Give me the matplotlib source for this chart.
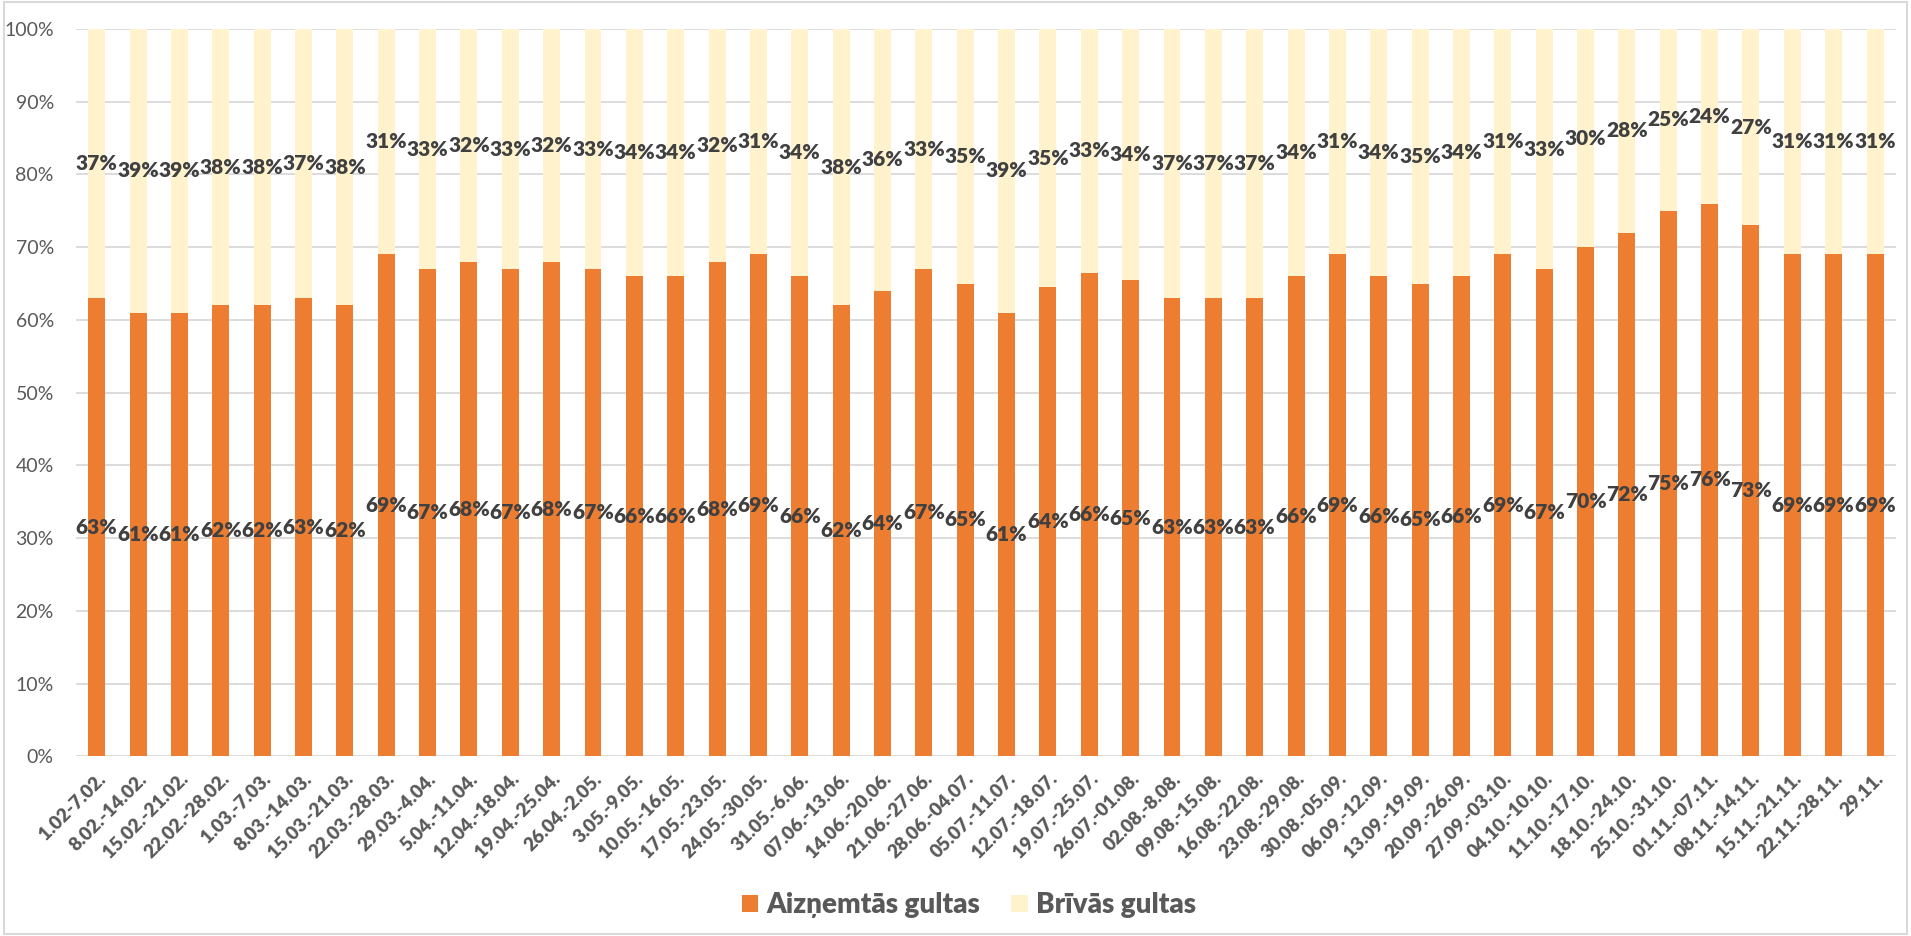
import matplotlib.pyplot as plt
import numpy as np
from matplotlib.patches import Rectangle

# nedēļas un gultu noslodze (%)
nedelas = ['1.02-7.02.', '8.02.-14.02.', '15.02.-21.02.', '22.02.-28.02.', '1.03.-7.03.',
           '8.03.-14.03.', '15.03.-21.03.', '22.03.-28.03.', '29.03.-4.04.', '5.04.-11.04.',
           '12.04.-18.04.', '19.04.-25.04.', '26.04.-2.05.', '3.05.-9.05.', '10.05.-16.05.',
           '17.05.-23.05.', '24.05.-30.05.', '31.05.-6.06.', '07.06.-13.06.', '14.06.-20.06.',
           '21.06.-27.06.', '28.06.-04.07.', '05.07.-11.07.', '12.07.-18.07.', '19.07.-25.07.',
           '26.07.-01.08.', '02.08.-8.08.', '09.08.-15.08.', '16.08.-22.08.', '23.08.-29.08.',
           '30.08.-05.09.', '06.09.-12.09.', '13.09.-19.09.', '20.09.-26.09.', '27.09.-03.10.',
           '04.10.-10.10.', '11.10.-17.10.', '18.10.-24.10.', '25.10.-31.10.', '01.11.-07.11.',
           '08.11.-14.11.', '15.11.-21.11.', '22.11.-28.11.', '29.11.']

aiznemtas = [63, 61, 61, 62, 62, 63, 62, 69, 67, 68, 67, 68, 67, 66, 66, 68, 69, 66, 62, 64,
             67, 65, 61, 64.49, 66.49, 65.49, 63, 63, 63, 66, 69, 66, 65, 66, 69, 67, 70, 72,
             75, 76, 73, 69, 69, 69]
brivas = [37, 39, 39, 38, 38, 37, 38, 31, 33, 32, 33, 32, 33, 34, 34, 32, 31, 34, 38, 36,
          33, 35, 39, 35.49, 33.49, 34.49, 37, 37, 37, 34, 31, 34, 35, 34, 31, 33, 30, 28,
          25, 24, 27, 31, 31, 31]

plt.rcParams['font.family'] = ['Lato', 'DejaVu Sans']

oranzs = '#ED7D31'
dzeltens = '#FFF2CC'
teksts = '#404040'

fig = plt.figure(figsize=(19.11, 9.36), dpi=100)
ax = fig.add_axes([0.0398, 0.192, 0.9522, 0.777])

x = np.arange(len(nedelas))
b1 = ax.bar(x, aiznemtas, width=0.41, color=oranzs, label='Aizņemtās gultas', zorder=3)
b2 = ax.bar(x, brivas, width=0.41, bottom=aiznemtas, color=dzeltens,
            label='Brīvās gultas', zorder=3)

ax.bar_label(b1, labels=[f'{v:.0f}%' for v in aiznemtas], label_type='center',
             fontsize=15, fontweight='heavy', color=teksts, zorder=5)
ax.bar_label(b2, labels=[f'{v:.0f}%' for v in brivas], label_type='center',
             fontsize=15, fontweight='heavy', color=teksts, zorder=5)

ax.set_xlim(-0.5, len(nedelas) - 0.5)
ax.set_ylim(0, 100)
ax.set_yticks(np.arange(0, 101, 10))
ax.set_yticklabels([f'{v}%' for v in range(0, 101, 10)], fontsize=14, color='#595959')
ax.set_xticks(x)
ax.set_xticklabels(nedelas, rotation=45, ha='right', rotation_mode='anchor',
                   fontsize=13.5, fontweight='heavy', color='#595959')
ax.tick_params(axis='both', length=0)
ax.tick_params(axis='y', pad=16)
ax.tick_params(axis='x', pad=10)
ax.grid(axis='y', color='#D9D9D9', linewidth=1.3, zorder=0)
for s in ax.spines.values():
    s.set_visible(False)

leg = fig.legend(loc='center', bbox_to_anchor=(0.507, 0.033), ncol=2, frameon=False,
                 fontsize=20, handlelength=0.6, handleheight=0.6, columnspacing=1.1,
                 handletextpad=0.3)
for t in leg.get_texts():
    t.set_color('#595959')
    t.set_fontweight('heavy')

# rāmis ap visu attēlu
fig.patches.append(Rectangle((0.002, 0.002), 0.996, 0.996, transform=fig.transFigure,
                             fill=False, edgecolor='#D9D9D9', linewidth=1.5))

fig.savefig('out.png', dpi=100)
